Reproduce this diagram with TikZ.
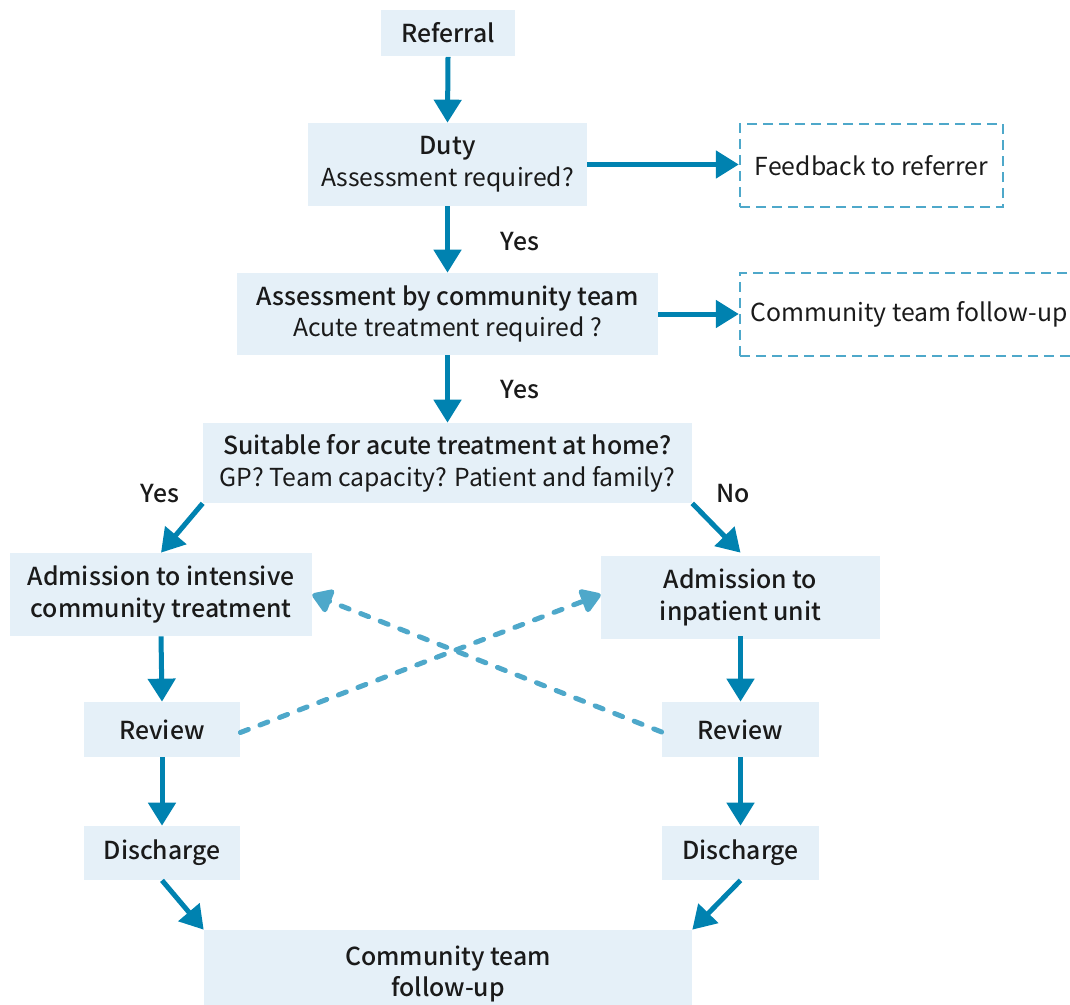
\documentclass[tikz,border=0pt]{standalone}
\usepackage{fontspec}
\setmainfont{Noto Sans CJK JP}[BoldFont={Noto Sans CJK JP Medium}]
\usetikzlibrary{arrows.meta}
\definecolor{boxfill}{HTML}{E5F0F8}
\definecolor{flow}{HTML}{0082B0}
\definecolor{alt}{HTML}{4EA8CA}
\definecolor{ink}{HTML}{1A1A1A}

\begin{document}
\begin{tikzpicture}[x=0.02cm,y=-0.02cm,
  txt/.style={text=ink, font=\fontsize{14.1}{18.1}\selectfont},
  box/.style={txt, fill=boxfill, inner sep=0pt, align=center},
  boldbox/.style={box, font=\fontsize{14.1}{18.1}\selectfont\bfseries},
  altbox/.style={txt, draw=alt, line width=1.4pt, dash pattern=on 0.2cm off 0.12cm, inner sep=0pt, align=center},
  flowarrow/.style={draw=flow, line width=0.1cm, -{Triangle[width=0.54cm,length=0.46cm]}},
  altarrow/.style={draw=alt, line width=0.1cm, line cap=round, dash pattern=on 0.17cm off 0.25cm,
    -{Triangle[width=0.54cm,length=0.44cm,round]}},
  lbl/.style={txt, font=\fontsize{14.1}{18.1}\selectfont\bfseries}]
\useasboundingbox (0,0) rectangle (1070,1004);

% main column
\node[box, minimum width=2.68cm, minimum height=0.94cm] (ref) at (448,33) {\textbf{Referral}};
\node[box, minimum width=5.58cm, minimum height=1.66cm] (duty) at (447.5,164.5)
  {\textbf{Duty}\\Assessment required?};
\node[altbox, minimum width=5.26cm, minimum height=1.66cm] (fb) at (871.5,165.5) {Feedback to referrer};
\node[box, minimum width=8.42cm, minimum height=1.64cm] (assess) at (447.5,314)
  {\textbf{Assessment by community team}\\Acute treatment required ?};
\node[altbox, minimum width=6.76cm, minimum height=1.66cm] (ctf) at (909,314.5) {Community team follow-up};
\node[box, minimum width=9.78cm, minimum height=1.60cm] (suit) at (447.5,463)
  {\textbf{Suitable for acute treatment at home?}\\GP? Team capacity? Patient and family?};

% two pathways
\node[boldbox, minimum width=6.04cm, minimum height=1.66cm] (aict) at (161,594.5)
  {Admission to intensive\\community treatment};
\node[boldbox, minimum width=5.58cm, minimum height=1.66cm] (ainp) at (740.5,597)
  {Admission to\\inpatient unit};
\node[box, minimum width=3.12cm, minimum height=1.10cm] (revL) at (162,729.5) {\textbf{Review}};
\node[box, minimum width=3.14cm, minimum height=1.10cm] (revR) at (740.5,729.5) {\textbf{Review}};
\node[box, minimum width=3.12cm, minimum height=1.08cm] (disL) at (162,853) {\textbf{Discharge}};
\node[box, minimum width=3.14cm, minimum height=1.08cm] (disR) at (740.5,853) {\textbf{Discharge}};
\node[boldbox, minimum width=9.76cm, minimum height=1.76cm] (final) at (448,974)
  {Community team\\follow-up};

% branch labels
\node[lbl] (y1) at (520,242) {Yes};
\node[lbl] (y2) at (520,390) {Yes};
\node[lbl] (y3) at (160,494) {Yes};
\node[lbl] (n1) at (733,494) {No};

% connectors
\draw[flowarrow] (ref.south) -- (duty.north);
\draw[flowarrow] (duty.east) -- (duty.east -| fb.west);
\draw[flowarrow] (duty.south) -- (assess.north);
\draw[flowarrow] (assess.east) -- (assess.east -| ctf.west);
\draw[flowarrow] (assess.south) -- (suit.north);
\draw[flowarrow] (suit.south west) -- (aict.north);
\draw[flowarrow] (suit.south east) -- (ainp.north |- aict.north);
\draw[flowarrow] (aict.south) -- (revL.north);
\draw[flowarrow] (ainp.south |- aict.south) -- (revR.north);
\draw[flowarrow] (revL.south) -- (disL.north);
\draw[flowarrow] (revR.south) -- (disR.north);
\draw[flowarrow] (disL.south) -- (final.north west);
\draw[flowarrow] (disR.south) -- (final.north east);

% crossover transfers
\draw[altarrow] ([yshift=-0.06cm]revL.east) -- (ainp.west |- aict.east);
\draw[altarrow] ([yshift=-0.05cm]revR.west) -- (aict.east);
\end{tikzpicture}
\end{document}
